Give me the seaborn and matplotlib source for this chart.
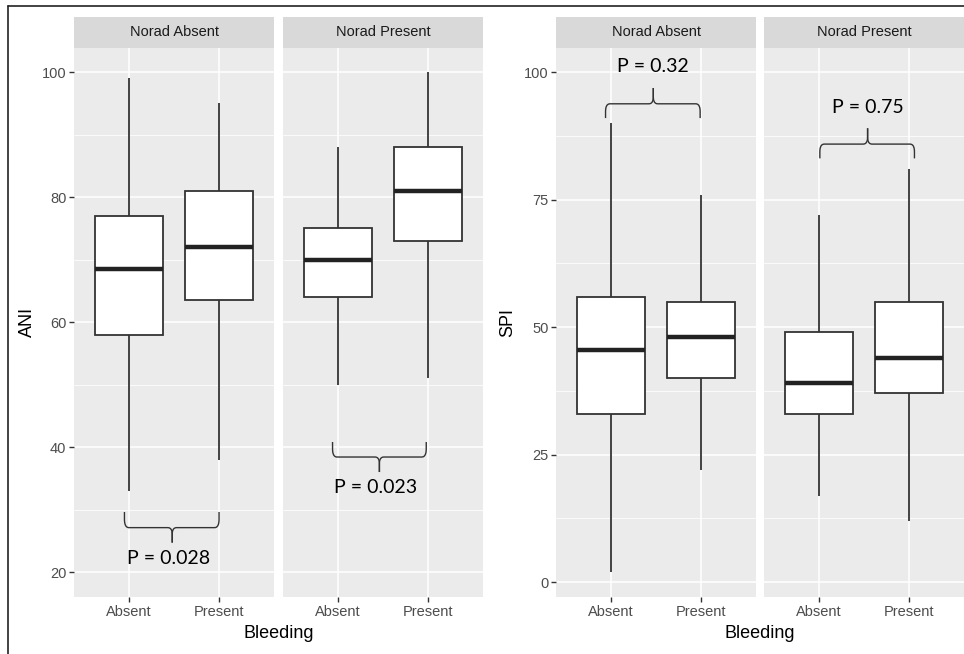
import numpy as np
import pandas as pd
import matplotlib
matplotlib.use("Agg")
import matplotlib.pyplot as plt
from matplotlib.lines import Line2D
from matplotlib.ticker import MultipleLocator
import seaborn as sns

sns.set_theme(style="darkgrid")
plt.rcParams["font.family"] = ["Liberation Sans", "DejaVu Sans"]

W, H = 964, 654

BLEEDING = ["Absent", "Present"]
FACETS = ["Norad Absent", "Norad Present"]

# five-number summaries, order: (Norad Absent: Absent, Present), (Norad Present: Absent, Present)
ANI_LOW = [33, 38, 50, 51]
ANI_Q1 = [58, 63.5, 64, 73]
ANI_MED = [68.5, 72, 70, 81]
ANI_Q3 = [77, 81, 75, 88]
ANI_HIGH = [99, 95, 88, 100]

SPI_LOW = [2, 22, 17, 12]
SPI_Q1 = [33, 40, 33, 37]
SPI_MED = [45.5, 48, 39, 44]
SPI_Q3 = [56, 55, 49, 55]
SPI_HIGH = [90, 76, 72, 81]

ANI_P = ["P = 0.028", "P = 0.023"]
SPI_P = ["P = 0.32", "P = 0.75"]

# brace: x1, x2, x_tip, y_end, y_bar, y_tip, text_x, text_y
ANI_BRACE = [(-0.05, 1.0, 0.48, 29.6, 27.1, 24.7, 0.44, 22.2),
             (-0.06, 0.98, 0.46, 40.8, 38.4, 36.0, 0.42, 33.5)]
SPI_BRACE = [(-0.06, 0.99, 0.47, 91.0, 93.8, 96.9, 0.47, 101.1),
             (0.01, 1.06, 0.54, 83.1, 85.9, 89.0, 0.54, 93.1)]


def build_frame(low, q1, med, q3, high):
    rows = []
    i = 0
    for facet in FACETS:
        for b in BLEEDING:
            for v in (low[i], q1[i], med[i], q3[i], high[i]):
                rows.append({"Norad": facet, "Bleeding": b, "value": v})
            i += 1
    return pd.DataFrame(rows)


def qbez(p0, p1, p2, n=10):
    t = np.linspace(0, 1, n)[:, None]
    p0, p1, p2 = map(np.asarray, (p0, p1, p2))
    return (1 - t) ** 2 * p0 + 2 * (1 - t) * t * p1 + t ** 2 * p2


def draw_brace(ax, x1, x2, xt, y_end, y_bar, y_tip, rx=0.05):
    ry_e = 0.55 * (y_end - y_bar)
    ry_t = 0.45 * (y_tip - y_bar)
    for xa, sgn in ((x1, 1), (x2, -1)):
        pts = [np.array([[xa, y_end], [xa, y_bar + ry_e]]),
               qbez((xa, y_bar + ry_e), (xa, y_bar), (xa + sgn * rx, y_bar)),
               np.array([[xt - sgn * rx, y_bar]]),
               qbez((xt - sgn * rx, y_bar), (xt, y_bar), (xt, y_bar + ry_t)),
               np.array([[xt, y_tip]])]
        pts = np.vstack(pts)
        ax.plot(pts[:, 0], pts[:, 1], color="#333333", lw=1.0,
                solid_capstyle="butt", zorder=5)


def px_box(x0, y0, x1, y1):
    return [x0 / W, 1 - y1 / H, (x1 - x0) / W, (y1 - y0) / H]


def draw_panel(fig, df, facet_x, ylim, major, minor, ylabel, braces, ptexts,
               ylabel_x):
    top, bottom = 47.7, 597
    for k, (facet, x0) in enumerate(zip(FACETS, facet_x)):
        ax = fig.add_axes(px_box(x0, top, x0 + 200, bottom))
        sub = df[df["Norad"] == facet]
        sns.boxplot(data=sub, x="Bleeding", y="value", order=BLEEDING, ax=ax,
                    width=0.76, whis=(0, 100), color="white",
                    linecolor="#333333", linewidth=1.3, showfliers=False,
                    showcaps=False, saturation=1,
                    medianprops=dict(linewidth=3.2, color="#222222"))
        ax.set_facecolor("#EBEBEB")
        ax.set_xlim(-0.61, 1.61)
        ax.set_ylim(*ylim)
        ax.yaxis.set_major_locator(MultipleLocator(major))
        ax.yaxis.set_minor_locator(MultipleLocator(minor))
        ax.grid(which="major", color="white", lw=1.1)
        ax.grid(which="minor", axis="y", color="white", lw=0.55)
        ax.set_axisbelow(True)
        for s in ax.spines.values():
            s.set_visible(False)
        ax.set_xlabel("")
        ax.set_ylabel("")
        ax.tick_params(axis="x", bottom=True, length=3.5, width=1,
                       color="#333333", labelcolor="#4D4D4D",
                       labelsize=10.5, pad=2)
        ax.tick_params(which="minor", length=0)
        if k == 0:
            ax.tick_params(axis="y", left=True, length=3.5, width=1,
                           color="#333333", labelcolor="#4D4D4D",
                           labelsize=10.5, pad=2)
        else:
            ax.tick_params(axis="y", left=False, labelleft=False)

        x1, x2, xt, ye, yb, yt, tx, ty = braces[k]
        draw_brace(ax, x1, x2, xt, ye, yb, yt)
        ax.text(tx, ty, ptexts[k], ha="center", va="center", fontsize=14,
                family=["Lato", "DejaVu Sans"], color="black", zorder=6)

        sax = fig.add_axes(px_box(x0, 17, x0 + 200, top))
        sax.set_facecolor("#D9D9D9")
        sax.set_xticks([])
        sax.set_yticks([])
        sax.grid(False)
        for s in sax.spines.values():
            s.set_visible(False)
        sax.text(0.5, 0.5, facet, ha="center", va="center", fontsize=10.5,
                 color="#1A1A1A", transform=sax.transAxes)

    fig.text(ylabel_x / W, 1 - (top + bottom) / 2 / H, ylabel, rotation=90,
             ha="center", va="center", fontsize=13, color="black")
    fig.text((facet_x[0] + facet_x[1] + 200) / 2 / W, 1 - 633 / H, "Bleeding",
             ha="center", va="center", fontsize=13, color="black")


ani_df = build_frame(ANI_LOW, ANI_Q1, ANI_MED, ANI_Q3, ANI_HIGH)
spi_df = build_frame(SPI_LOW, SPI_Q1, SPI_MED, SPI_Q3, SPI_HIGH)

fig = plt.figure(figsize=(W / 100, H / 100), dpi=100)
fig.patch.set_facecolor("white")

draw_panel(fig, ani_df, [74, 283], (16, 103.9), 20, 10, "ANI", ANI_BRACE,
           ANI_P, 27)
draw_panel(fig, spi_df, [556, 764], (-2.9, 104.8), 25, 12.5, "SPI", SPI_BRACE,
           SPI_P, 508)

# outer frame lines
fig.add_artist(Line2D([8 / W, 1], [1 - 6 / H, 1 - 6 / H], color="#222222",
                      lw=1.2, transform=fig.transFigure))
fig.add_artist(Line2D([8 / W, 8 / W], [0, 1 - 6 / H], color="#222222",
                      lw=1.2, transform=fig.transFigure))

fig.savefig("out.png", dpi=100)
